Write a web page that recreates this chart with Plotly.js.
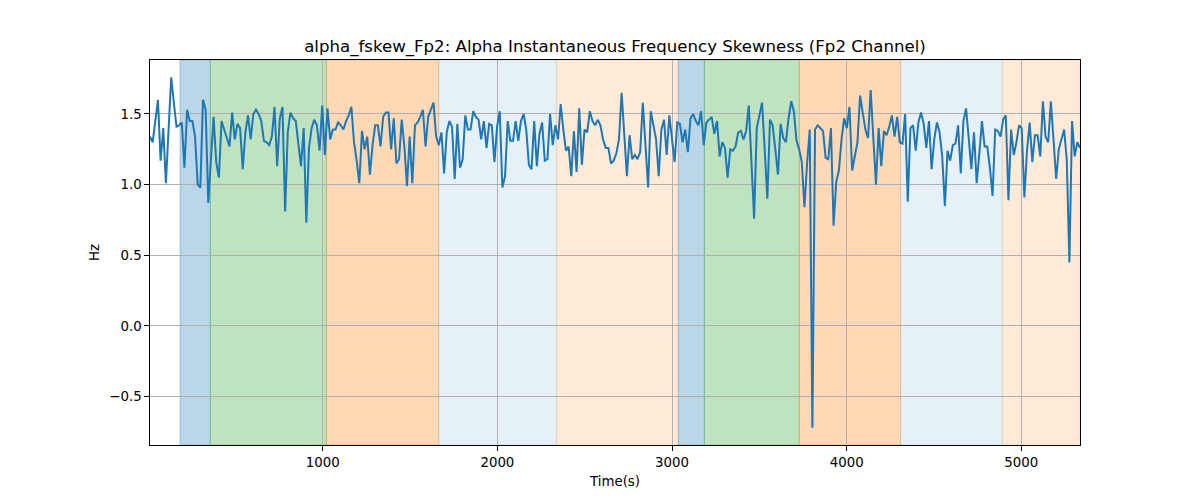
<!DOCTYPE html>
<html>
<head>
<meta charset="utf-8">
<script src="https://cdn.plot.ly/plotly-3.0.1.min.js"></script>
<style>
html, body { margin: 0; padding: 0; background: #ffffff; }
#chart { width: 1200px; height: 500px; }
</style>
</head>
<body>
<div id="chart"></div>
<script>
// ---- data ----
const tStart = 11;
const tEnd = 5336;

const skewValues = [
  // ~ t 11 - 680
  1.34, 1.30, 1.45, 1.60, 1.17, 1.40, 1.01, 1.38, 1.76, 1.58, 1.41, 1.42, 1.44, 1.12, 1.53,
  1.45, 1.45, 1.34, 1.00, 0.98, 1.60, 1.53, 0.87, 1.18, 1.48, 1.16, 1.05, 1.45, 1.39, 1.33,
  1.27, 1.51, 1.32, 1.43, 1.40, 1.11, 1.37, 1.49, 1.32, 1.50, 1.53, 1.50, 1.45, 1.31, 1.30,
  // ~ t 690 - 1360
  1.28, 1.34, 1.55, 1.13, 1.47, 1.55, 0.81, 1.37, 1.51, 1.47, 1.45, 1.29, 1.13, 1.40, 0.73,
  1.26, 1.40, 1.46, 1.42, 1.24, 1.56, 1.21, 1.54, 1.32, 1.39, 1.39, 1.44, 1.42, 1.39, 1.45,
  1.49, 1.55, 1.30, 1.17, 1.01, 1.38, 1.25, 1.34, 1.07, 1.28, 1.42, 1.42, 1.27, 1.48, 1.51,
  // ~ t 1380 - 2010
  1.51, 1.25, 1.47, 1.15, 1.18, 1.46, 1.27, 0.99, 1.34, 1.01, 1.42, 1.44, 1.48, 1.53, 1.27,
  1.48, 1.53, 1.58, 1.34, 1.28, 1.37, 1.08, 1.37, 1.45, 1.41, 1.04, 1.43, 1.12, 1.18, 1.49,
  1.39, 1.39, 1.52, 1.48, 1.46, 1.32, 1.45, 1.26, 1.43, 1.42, 1.16, 1.41, 1.52,
  // ~ t 2030 - 2680
  0.98, 1.06, 1.45, 1.31, 1.31, 1.45, 1.31, 1.45, 1.50, 1.39, 1.14, 1.11, 1.45, 1.13, 1.36,
  1.44, 1.17, 1.18, 1.50, 1.28, 1.42, 1.32, 1.57, 1.39, 1.24, 1.27, 1.06, 1.38, 1.09, 1.54,
  1.14, 1.39, 1.37, 1.52, 1.45, 1.42, 1.46, 1.42, 1.32, 1.26, 1.26, 1.15, 1.17, 1.22,
  // ~ t 2700 - 3380
  1.32, 1.65, 1.32, 1.06, 1.35, 1.18, 1.21, 1.18, 1.23, 1.58, 1.28, 0.98, 1.52, 1.43, 1.32,
  1.06, 1.39, 1.46, 1.21, 1.49, 1.33, 1.16, 1.44, 1.43, 1.30, 1.39, 1.23, 1.47, 1.50, 1.45,
  1.42, 1.52, 1.28, 1.44, 1.46, 1.48, 1.36, 1.45, 1.20, 1.30, 1.26, 1.05, 1.25, 1.24, 1.27,
  1.37,
  // ~ t 3400 - 4050
  1.38, 1.32, 1.38, 1.56, 1.16, 0.76, 1.40, 1.49, 1.58, 1.25, 0.90, 1.46, 1.42, 1.25, 1.07,
  1.43, 1.33, 1.30, 1.47, 1.59, 1.52, 1.31, 1.25, 1.16, 0.84, 1.15, 1.39, -0.72, 1.39, 1.42,
  1.40, 1.38, 1.19, 1.18, 1.40, 0.71, 1.02, 1.10, 1.32, 1.47, 1.40, 1.55, 1.10, 1.21,
  // ~ t 4070 - 4700
  1.30, 1.63, 1.50, 1.39, 1.33, 1.67, 1.33, 1.00, 1.40, 1.13, 1.38, 1.35, 1.41, 1.49, 1.34,
  1.48, 1.30, 1.29, 1.50, 0.88, 1.40, 1.42, 1.24, 1.44, 1.51, 1.43, 1.26, 1.45, 1.11, 1.32,
  1.44, 1.37, 1.20, 0.85, 1.24, 1.17, 1.28, 1.29, 1.42, 1.08, 1.45, 1.54, 1.33,
  // ~ t 4720 - 5336
  1.11, 1.37, 1.01, 1.22, 1.45, 1.27, 1.27, 1.12, 0.92, 1.39, 1.38, 1.34, 1.46, 1.49, 0.89,
  1.39, 1.21, 1.30, 1.42, 1.40, 0.91, 1.24, 1.44, 1.16, 1.35, 1.35, 1.20, 1.59, 1.34, 1.30,
  1.59, 1.32, 1.04, 1.25, 1.33, 1.39, 1.18, 0.45, 1.45, 1.20, 1.30, 1.26
];

// shaded stage regions
const regionStarts = [183, 356, 1021, 1664, 2338, 3036, 3185, 3729, 4309, 4891];
const regionEnds   = [356, 1021, 1664, 2338, 3036, 3185, 3729, 4309, 4891, 5336];
const regionKinds  = ["blue", "green", "orange", "lightblue", "lightorange",
                      "blue", "green", "orange", "lightblue", "lightorange"];

const xTickVals = [1000, 2000, 3000, 4000, 5000];
const yTickVals = [-0.5, 0, 0.5, 1, 1.5];
const yTickText = ["\u22120.5", "0.0", "0.5", "1.0", "1.5"];

// ---- build ----
const n = skewValues.length;
const dt = (tEnd - tStart) / (n - 1);
const times = skewValues.map((_, i) => tStart + i * dt);

const kindColor = {
  blue: "rgba(31,119,180,0.3)",
  green: "rgba(44,160,44,0.3)",
  orange: "rgba(255,127,14,0.3)",
  lightblue: "rgba(31,119,180,0.11)",
  lightorange: "rgba(255,127,14,0.16)"
};

const shapes = regionStarts.map((s, i) => ({
  type: "rect",
  xref: "x", yref: "paper",
  x0: s, x1: regionEnds[i], y0: 0, y1: 1,
  fillcolor: kindColor[regionKinds[i]],
  line: { color: kindColor[regionKinds[i]], width: 1 },
  layer: "below"
}));

const font = "DejaVu Sans, Liberation Sans, sans-serif";

const trace = {
  x: times,
  y: skewValues,
  type: "scatter",
  mode: "lines",
  line: { color: "#1f77b4", width: 2 },
  hoverinfo: "skip"
};

const layout = {
  width: 1200,
  height: 500,
  margin: { l: 150, r: 120, t: 60, b: 55 },
  paper_bgcolor: "#ffffff",
  plot_bgcolor: "rgba(0,0,0,0)",
  showlegend: false,
  font: { family: font, size: 13.33, color: "#000000" },
  title: {
    text: "alpha_fskew_Fp2: Alpha Instantaneous Frequency Skewness (Fp2 Channel)",
    font: { family: font, size: 16.6, color: "#000000" },
    x: 0.5, xref: "paper", xanchor: "center",
    y: 0.908, yref: "container", yanchor: "middle"
  },
  xaxis: {
    range: [tStart, tEnd],
    tickmode: "array",
    tickvals: xTickVals,
    ticks: "outside", ticklen: 4.7, tickwidth: 1, tickcolor: "#000000",
    showline: true, mirror: true, linecolor: "#000000", linewidth: 1,
    showgrid: true, gridcolor: "#b0b0b0", gridwidth: 1,
    zeroline: false,
    tickfont: { family: font, size: 13.33, color: "#000000" },
    title: { text: "Time(s)", font: { family: font, size: 13.33, color: "#000000" }, standoff: 7 }
  },
  yaxis: {
    range: [-0.842, 1.882],
    tickmode: "array",
    tickvals: yTickVals,
    ticktext: yTickText,
    ticks: "outside", ticklen: 4.7, tickwidth: 1, tickcolor: "#000000",
    showline: true, mirror: true, linecolor: "#000000", linewidth: 1,
    showgrid: true, gridcolor: "#b0b0b0", gridwidth: 1,
    zeroline: false,
    tickfont: { family: font, size: 13.33, color: "#000000" },
    title: { text: "Hz", font: { family: font, size: 13.33, color: "#000000" }, standoff: 6 }
  },
  shapes: shapes
};

Plotly.newPlot("chart", [trace], layout, { displayModeBar: false, staticPlot: true });
</script>
</body>
</html>
